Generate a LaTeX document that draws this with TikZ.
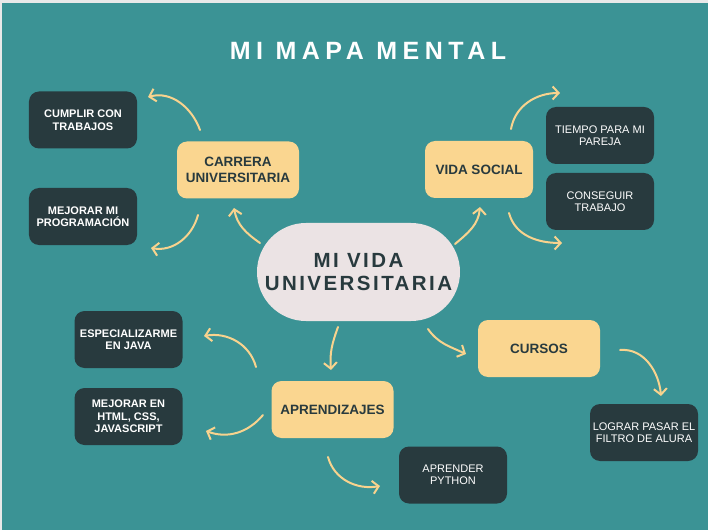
\documentclass[tikz,border=0pt]{standalone}
\usepackage{fontspec}
\setmainfont{Liberation Sans}
\newfontfamily\titulofont[LetterSpace=22]{Liberation Sans}
\newfontfamily\raizfont[LetterSpace=12]{Liberation Sans}
\usetikzlibrary{arrows.meta}
\definecolor{fondo}{HTML}{3B9395}
\definecolor{borde}{HTML}{E9E9E9}
\definecolor{oscuro}{HTML}{283A3E}
\definecolor{amarillo}{HTML}{FAD690}
\definecolor{crema}{HTML}{EBE3E4}
\definecolor{flecha}{HTML}{F8D38E}
\tikzset{
	raiz/.style={fill=crema, rounded corners=49bp, minimum width=203bp, minimum height=98bp, inner sep=0pt, align=center, text=oscuro, font=\raizfont\bfseries\fontsize{20.5bp}{23bp}\selectfont},
	rama/.style={fill=amarillo, rounded corners=10bp, minimum width=122bp, minimum height=57bp, inner sep=0pt, align=center, text=oscuro, font=\bfseries\fontsize{13.5bp}{16bp}\selectfont},
	hoja/.style={fill=oscuro, rounded corners=10bp, minimum width=108bp, minimum height=57bp, inner sep=0pt, align=center, text=white, font=\fontsize{11bp}{12.5bp}\selectfont},
	hojab/.style={hoja, font=\bfseries\fontsize{11bp}{12.5bp}\selectfont},
	conector/.style={draw=flecha, line width=2bp, line cap=round, -{Straight Barb[length=6bp,width=13bp,line width=2bp]}}
}
\begin{document}
\begin{tikzpicture}[x=1bp, y=1bp, line join=round, line cap=round]
				\useasboundingbox (0,0) rectangle (708,-530);
				\fill[borde] (0,0) rectangle (708,-530);
				\fill[fondo] (2,-3) rectangle (708,-530);
				\node[text=white, font=\titulofont\bfseries\fontsize{25bp}{28bp}\selectfont] (titulo) at (368,-51) {MI MAPA MENTAL};
				% centro y ramas
				\node[raiz] (vida) at (358.5,-272) {MI VIDA\\UNIVERSITARIA};
				\node[rama] (carrera) at (238,-170) {CARRERA\\UNIVERSITARIA};
				\node[rama, minimum width=108bp] (social) at (479,-169.5) {VIDA SOCIAL};
				\node[rama] (aprendizajes) at (332.5,-409.5) {APRENDIZAJES};
				\node[rama] (cursos) at (539,-348.5) {CURSOS};
				% hojas
				\node[hojab] (cumplir) at (83,-120) {CUMPLIR CON\\TRABAJOS};
				\node[hojab] (programacion) at (83,-216.5) {MEJORAR MI\\PROGRAMACIÓN};
				\node[hoja] (pareja) at (600,-135.5) {TIEMPO PARA MI\\PAREJA};
				\node[hoja] (trabajo) at (600,-201.5) {CONSEGUIR\\TRABAJO};
				\node[hojab] (java) at (128.5,-339.5) {ESPECIALIZARME\\EN JAVA};
				\node[hojab] (web) at (128.5,-416.5) {MEJORAR EN\\HTML, CSS,\\JAVASCRIPT};
				\node[hoja] (python) at (453,-475) {APRENDER\\PYTHON};
				\node[hoja] (alura) at (644,-432.5) {LOGRAR PASAR EL\\FILTRO DE ALURA};
				% extremos de las flechas
				\coordinate (c1) at (200,-130);	\coordinate (d1) at (148,-97);
				\coordinate (c2) at (198,-215);	\coordinate (d2) at (151,-248);
				\coordinate (c3) at (260,-243);	\coordinate (d3) at (234,-208);
				\coordinate (c4) at (455,-244);	\coordinate (d4) at (480,-207);
				\coordinate (c5) at (511,-129);	\coordinate (d5) at (560,-93);
				\coordinate (c6) at (509,-213);	\coordinate (d6) at (562,-243);
				\coordinate (c7) at (338,-327);	\coordinate (d7) at (331,-370);
				\coordinate (c8) at (256,-367);	\coordinate (d8) at (204,-336);
				\coordinate (c9) at (263,-415);	\coordinate (d9) at (206,-431);
				\coordinate (c10) at (328,-457);	\coordinate (d10) at (380,-486);
				\coordinate (c11) at (428,-329);	\coordinate (d11) at (466,-354);
				\coordinate (c12) at (620,-350);	\coordinate (d12) at (661,-396);
				\foreach \ini/\fin/\sal/\lle in {c1/d1/110/15, c2/d2/-105/-10, c3/d3/145/-80, c4/d4/40/-95, c5/d5/80/180, c6/d6/-75/180, c7/d7/-110/95, c8/d8/105/10, c9/d9/-130/-20, c10/d10/-75/-170, c11/d11/-55/155, c12/d12/5/95}
					\draw[conector] (\ini) to[out=\sal, in=\lle] (\fin);
			\end{tikzpicture}
\end{document}
